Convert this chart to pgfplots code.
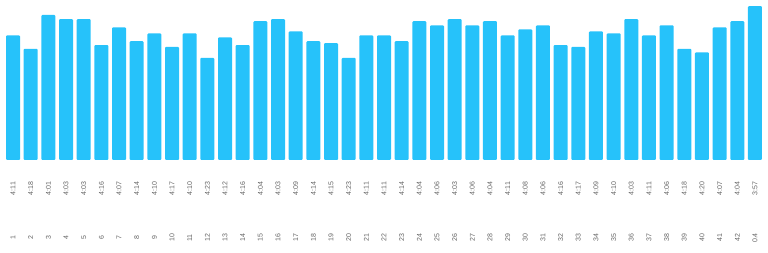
\documentclass[border=0pt]{standalone}
\usepackage{pgfplots}
\pgfplotsset{compat=1.18}
\usepackage{fontspec}
\setmainfont{Liberation Sans}
\definecolor{barblue}{RGB}{38,194,250}
\definecolor{lab}{RGB}{100,100,100}
\begin{document}
\begin{tikzpicture}[x=1pt,y=1pt]
\useasboundingbox (0,0) rectangle (768,253);
% values: speed in km/h (3600 / pace in s per km)
\begin{axis}[
  at={(4.2pt,93pt)}, anchor=south west,
  scale only axis, width=759.6pt, height=160pt,
  xmin=0.5, xmax=43.5, ymin=10.72, ymax=15.371,
  axis line style={draw=none}, ytick=\empty,
  xtick={1,...,43}, major tick length=0pt,
  xticklabels={4:11,4:18,4:01,4:03,4:03,4:16,4:07,4:14,4:10,4:17,4:10,4:23,4:12,4:16,4:04,4:03,4:09,4:14,4:15,4:23,4:11,4:11,4:14,4:04,4:06,4:03,4:06,4:04,4:11,4:08,4:06,4:16,4:17,4:09,4:10,4:03,4:11,4:06,4:18,4:20,4:07,4:04,3:57},
  xticklabel style={yshift=-28.5pt, rotate=90, anchor=center, font=\fontsize{7}{8}\selectfont, text=lab},
  clip=false,
]
\addplot[ybar, bar width=14pt, fill=barblue, draw=none, rounded corners=1pt] coordinates {
(1,14.343)(2,13.953)(3,14.938)(4,14.815)(5,14.815)(6,14.0625)(7,14.575)(8,14.173)(9,14.4)(10,14.008)
(11,14.4)(12,13.688)(13,14.286)(14,14.0625)(15,14.754)(16,14.815)(17,14.458)(18,14.173)(19,14.118)(20,13.688)
(21,14.343)(22,14.343)(23,14.173)(24,14.754)(25,14.634)(26,14.815)(27,14.634)(28,14.754)(29,14.343)(30,14.516)
(31,14.634)(32,14.0625)(33,14.008)(34,14.458)(35,14.4)(36,14.815)(37,14.343)(38,14.634)(39,13.953)(40,13.846)
(41,14.575)(42,14.754)(43,15.190)};
\end{axis}
\begin{axis}[
  at={(4.2pt,93pt)}, anchor=south west,
  scale only axis, width=759.6pt, height=160pt,
  xmin=0.5, xmax=43.5, ymin=10.72, ymax=15.371,
  axis line style={draw=none}, ytick=\empty,
  xtick={1,...,43}, major tick length=0pt,
  xticklabels={1,2,3,4,5,6,7,8,9,10,11,12,13,14,15,16,17,18,19,20,21,22,23,24,25,26,27,28,29,30,31,32,33,34,35,36,37,38,39,40,41,42,0.4},
  xticklabel style={yshift=-78pt, rotate=90, anchor=center, font=\fontsize{7}{8}\selectfont, text=lab},
]
\end{axis}
\end{tikzpicture}
\end{document}
